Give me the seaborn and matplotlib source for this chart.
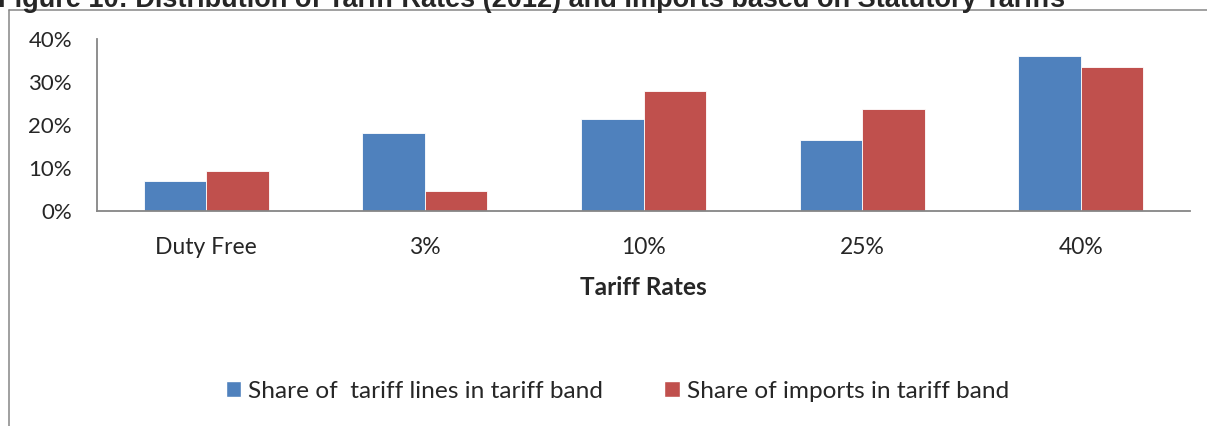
import matplotlib
matplotlib.use("Agg")
import matplotlib.pyplot as plt
import matplotlib.ticker as mticker
from matplotlib.lines import Line2D
from matplotlib.patches import Patch
import pandas as pd
import seaborn as sns

# datos
bandas = ["Duty Free", "3%", "10%", "25%", "40%"]
lineas = [0.070, 0.182, 0.214, 0.165, 0.361]
importaciones = [0.093, 0.046, 0.280, 0.237, 0.336]
serie_lineas = "Share of  tariff lines in tariff band"
serie_import = "Share of imports in tariff band"
titulo = "Figure 10: Distribution of Tariff Rates (2012) and Imports based on Statutory Tariffs"

azul = "#4F81BD"
rojo = "#C0504D"
gris = "#868686"

df = pd.DataFrame({
    "banda": bandas * 2,
    "valor": lineas + importaciones,
    "serie": [serie_lineas] * 5 + [serie_import] * 5,
})

sns.set_style("white")
plt.rcParams["font.family"] = ["Lato", "DejaVu Sans"]

W, H = 1207, 426
fig = plt.figure(figsize=(W / 100, H / 100), dpi=100)
ax = fig.add_axes([97 / W, 1 - 211 / H, (1190 - 97) / W, (211 - 39) / H])

sns.barplot(data=df, x="banda", y="valor", hue="serie", order=bandas,
            palette=[azul, rojo], saturation=1, width=0.572, edgecolor="white",
            linewidth=0.6, ax=ax, legend=False)

ax.set_ylim(0, 0.4)
ax.set_xlim(-0.5, 4.5)
ax.yaxis.set_major_locator(mticker.MultipleLocator(0.1))
ax.yaxis.set_major_formatter(mticker.PercentFormatter(1.0, decimals=0))

# marcas del eje x entre categorias, etiquetas centradas
ax.set_xticks([i - 0.5 for i in range(6)])
ax.set_xticklabels([])
ax.set_xticks(range(5), minor=True)
ax.set_xticklabels(bandas, minor=True)
ax.tick_params(axis="x", which="major", direction="out", length=6, width=1.2, color=gris)
ax.tick_params(axis="x", which="minor", length=0, pad=19, labelsize=16.5)
ax.tick_params(axis="y", direction="out", length=6, width=1.2, color=gris, pad=12, labelsize=16)

for s in ["top", "right"]:
    ax.spines[s].set_visible(False)
for s in ["left", "bottom"]:
    ax.spines[s].set_color(gris)
    ax.spines[s].set_linewidth(1.3)

ax.set_ylabel("")
ax.set_xlabel("Tariff Rates", fontsize=17.6, fontweight="bold", labelpad=13)

handles = [Patch(facecolor=azul, label=serie_lineas), Patch(facecolor=rojo, label=serie_import)]
fig.legend(handles=handles, loc="center", bbox_to_anchor=(617.5 / W, 1 - 391 / H), ncol=2,
           frameon=False, fontsize=17.6, handlelength=0.64, handleheight=0.64,
           handletextpad=0.28, columnspacing=2.5)

# marco del area del grafico (solo borde superior e izquierdo visibles)
fig.add_artist(Line2D([8.5 / W, 8.5 / W], [0, 1 - 9.5 / H], color=gris, lw=1.1,
                      transform=fig.transFigure))
fig.add_artist(Line2D([8.5 / W, 1], [1 - 9.5 / H, 1 - 9.5 / H], color=gris, lw=1.1,
                      transform=fig.transFigure))

# titulo recortado arriba
fig.text(-2 / W, 1 - 7 / H, titulo, ha="left", va="baseline", fontsize=19.5,
         fontweight="bold", family=["Liberation Sans", "DejaVu Sans"])

fig.savefig("out.png", dpi=100)
